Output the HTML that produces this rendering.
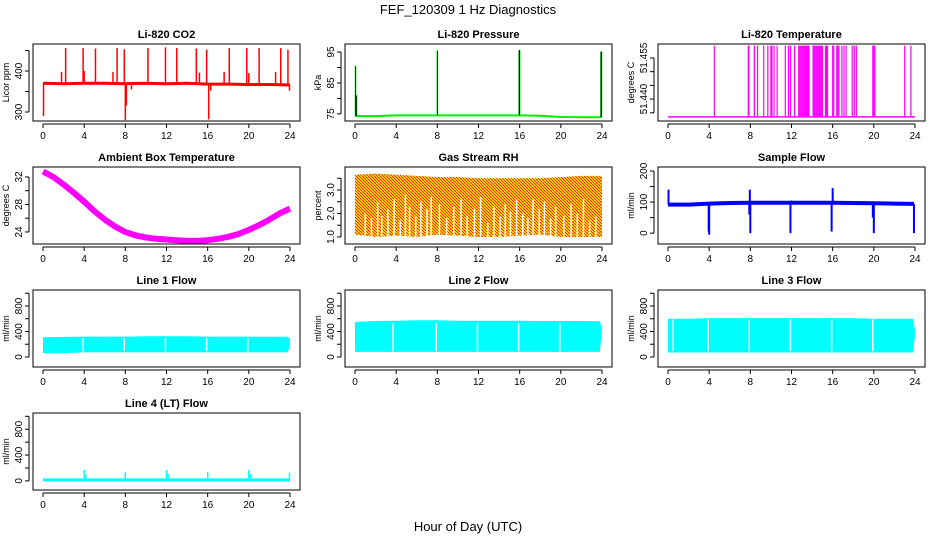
<!DOCTYPE html>
<html><head><meta charset="utf-8">
<style>
html,body{margin:0;padding:0;background:#fff;}
svg{display:block;font-family:"Liberation Sans",sans-serif;}
</style></head>
<body>
<svg id="c" width="936" height="540" viewBox="0 0 936 540" xmlns="http://www.w3.org/2000/svg">
<defs>
<pattern id="rhpat" width="3" height="3" patternUnits="userSpaceOnUse">
<rect width="3" height="3" fill="#ffd000"/><rect x="0" y="0" width="1" height="1" fill="#ff2000"/><rect x="1" y="1" width="1" height="1" fill="#ff2000"/><rect x="2" y="2" width="1" height="1" fill="#ff2000"/>
</pattern>
</defs>
<text x="468" y="14" text-anchor="middle" font-size="13">FEF_120309  1 Hz Diagnostics</text>
<text x="468" y="531" text-anchor="middle" font-size="13">Hour of Day (UTC)</text>
</svg>
<script>
// ---- data ----
const hourTicks = [0,4,8,12,16,20,24];
// CO2
const co2Hours = [0,2,4,6,8,10,12,14,16,18,20,22,24];
const co2Base = [370,369,370,370,369,370,369,370,368,368,367,367,366];
const co2SpikeHours = [0.05,1.8,2.2,3.9,4.0,5.1,6.8,7.2,7.9,8.0,8.1,8.6,10.2,11.9,12.0,13.0,14.9,15.2,15.9,16.1,16.3,17.6,18.1,19.8,20.0,21.0,22.6,23.1,23.8,23.95];
const co2SpikeVals = [290,398,456,456,400,455,398,456,453,280,316,355,456,458,368,456,455,396,452,282,352,398,456,456,395,456,398,456,452,352];
// Pressure
const presHours = [0,2,4,6,8,10,12,14,16,18,20,22,23.9];
const presBase = [74.3,74.3,74.5,74.5,74.5,74.5,74.5,74.5,74.5,74.4,74.0,73.9,73.9];
const presSpikeHours = [0.05,0.15,8.0,15.95,16.0,23.9,23.95];
const presSpikeVals = [90.5,81,95.5,95.6,95.6,95.0,95.2];
// Li-820 temperature
const ltBase = 51.4335;
const ltTop = 51.4595;
const ltSpikeHours = [4.5,7.8,7.85,8.4,8.7,9.3,9.7,10.0,10.1,10.3,10.6,11.4,11.7,11.9,12.3,12.7,12.8,12.9,13.0,13.1,13.2,13.3,13.4,13.5,13.6,13.7,14.1,14.2,14.3,14.4,14.5,14.6,14.7,14.8,14.9,15.0,15.3,15.4,15.5,16.0,16.1,16.4,16.5,16.6,16.9,17.1,17.3,17.9,18.1,18.3,19.9,20.0,20.1,23.0,23.6];
// Ambient box temperature
const ambHours = [0,1,2,3,4,5,6,7,8,9,10,11,12,13,14,15,16,17,18,19,20,21,22,23,24];
const ambVals = [32.8,32.0,30.9,29.7,28.4,27.0,25.8,24.8,24.0,23.5,23.2,23.0,22.9,22.8,22.7,22.7,22.8,23.0,23.3,23.7,24.3,25.0,25.8,26.7,27.4];
// Gas stream RH
const rhHours = [0,2,4,6,8,10,12,14,16,18,20,22,24];
const rhTop = [3.65,3.7,3.65,3.6,3.55,3.55,3.5,3.5,3.5,3.5,3.55,3.6,3.6];
const rhBot = [1.1,1.0,1.05,1.0,1.1,1.05,1.0,1.0,1.05,1.1,1.0,1.0,1.0];
const rhGapHours = [1.0,1.6,2.2,2.6,3.2,3.8,4.4,4.9,5.3,5.9,6.4,7.0,7.4,8.2,8.9,9.6,10.3,10.9,11.6,12.2,12.9,13.5,14.1,14.6,15.1,15.7,16.3,16.8,17.3,17.9,18.4,19.0,19.5,20.3,21.0,21.6,22.2,22.8,23.4];
const rhGapVals = [2.0,1.8,2.5,1.9,2.2,2.6,1.7,2.8,2.3,1.9,2.5,2.2,2.7,2.4,1.8,2.3,2.6,1.9,2.2,2.7,1.6,2.3,1.9,2.4,2.1,2.6,2.0,1.8,2.6,2.2,2.5,1.8,2.3,1.9,2.4,2.0,2.6,1.7,1.9];
// Sample flow
const sfHours = [0,2,4,6,8,10,12,14,16,18,20,22,23.9];
const sfBase = [92,92,95,97,98,98,98,98,98,97,96,95,94];
const sfSpikeHours = [0.05,3.95,4.0,7.9,7.95,8.0,11.9,12.0,15.9,16.0,19.9,20.0,23.9];
const sfSpikeVals = [140,5,-5,60,140,0,0,105,5,145,50,0,0];
// Line flows
const flowHours = [0,2,4,6,8,10,12,14,16,18,20,22,23.8,24];
const l1Top = [310,315,320,320,320,325,325,325,320,320,320,318,320,280];
const l1Bot = [60,60,75,75,75,75,75,75,75,75,75,75,75,180];
const l1Gaps = [3.9,7.9,11.9,15.9,19.9];
const l2Top = [550,565,570,575,575,570,570,570,570,565,565,565,560,440];
const l2Bot = [80,80,80,80,80,80,80,80,80,80,80,80,80,420];
const l2Gaps = [3.7,7.9,11.9,15.9,19.9];
const l3Top = [600,600,610,610,610,610,610,610,610,610,600,600,600,430];
const l3Bot = [70,70,70,70,70,70,70,70,70,70,70,70,70,330];
const l3Gaps = [0.5,3.9,7.9,11.9,15.9,19.9];
const l4Hours = [0,24];
const l4Base = [15,15];
const l4SpikeHours = [4.0,4.15,8.0,12.0,12.15,16.0,20.0,20.15,23.95];
const l4SpikeVals = [170,100,140,170,110,140,170,110,130];

// ---- layout ----
const svg = document.getElementById('c');
const NS = 'http://www.w3.org/2000/svg';
const colX = [33,345,658], rowY = [44,167,290,413], W = 267, H = 77;
function mk(tag, attrs, parent){const e=document.createElementNS(NS,tag);for(const k in attrs)e.setAttribute(k,attrs[k]);(parent||svg).appendChild(e);return e;}

function panel(name, col, row, title, ylab, ymin, ymax, yticks, ylabels){
  const L=colX[col], T=rowY[row];
  const g = mk('g',{});
  
  
  const xs = h => L + 10 + h/24*247;
  const ys = v => T + H - (v-ymin)/(ymax-ymin)*H;
  const t = mk('text',{x:L+W/2,y:T-6,'text-anchor':'middle','font-size':11,'font-weight':'bold'},g);
  t.textContent = title;
  
  
  const plot = mk('g',{},g);
  
  
  const box = mk('rect',{x:L,y:T,width:W,height:H,fill:'none',stroke:'#000','stroke-width':1},g);
  
  
  const xa = mk('g',{},g);
  
  
  mk('line',{x1:xs(0),x2:xs(24),y1:T+H+3,y2:T+H+3,stroke:'#000'},xa);
  hourTicks.forEach(h=>{
    mk('line',{x1:xs(h),x2:xs(h),y1:T+H+3,y2:T+H+7,stroke:'#000'},xa);
    const tx = mk('text',{x:xs(h),y:T+H+18,'text-anchor':'middle','font-size':10},xa);
    tx.textContent = h;
  });
  const ya = mk('g',{},g);
  
  
  mk('line',{x1:L-4,x2:L-4,y1:ys(yticks[0]),y2:ys(yticks[yticks.length-1]),stroke:'#000'},ya);
  yticks.forEach(v=>mk('line',{x1:L-8,x2:L-4,y1:ys(v),y2:ys(v),stroke:'#000'},ya));
  ylabels.forEach(v=>{
    const x=L-11, y=ys(v);
    const tx=mk('text',{x:x,y:y,'text-anchor':'middle','font-size':10,transform:`rotate(-90 ${x} ${y})`},ya);
    tx.textContent = v;
  });
  const yx=L-24, yy=T+H/2;
  const yt = mk('text',{x:yx,y:yy,'text-anchor':'middle','font-size':9,transform:`rotate(-90 ${yx} ${yy})`},g);
  yt.textContent = ylab;
  
  
  return {g:plot, xs, ys};
}
function poly(p, hs, vs, color, w, extra){
  const pts = hs.map((h,i)=>p.xs(h).toFixed(1)+','+p.ys(vs[i]).toFixed(1)).join(' ');
  const e = mk('polyline',Object.assign({points:pts,fill:'none',stroke:color,'stroke-width':w},extra||{}),p.g);
  
  
  return e;
}
function interp(hs, vs, h){
  for(let i=0;i<hs.length-1;i++) if(h<=hs[i+1]) return vs[i]+(vs[i+1]-vs[i])*(h-hs[i])/(hs[i+1]-hs[i]);
  return vs[vs.length-1];
}
function spikes(p, hs, vs, baseH, baseV, color, w, name){
  hs.forEach((h,i)=>{
    const b = Array.isArray(baseV)? interp(baseH,baseV,h) : baseV;
    const e = mk('line',{x1:p.xs(h),x2:p.xs(h),y1:p.ys(b),y2:p.ys(vs[i]),stroke:color,'stroke-width':w},p.g);
    
    
  });
}
function band(p, hs, top, bot, fill, name){
  const up = hs.map((h,i)=>p.xs(h).toFixed(1)+','+p.ys(top[i]).toFixed(1));
  const dn = hs.map((h,i)=>p.xs(h).toFixed(1)+','+p.ys(bot[i]).toFixed(1)).reverse();
  const e = mk('polygon',{points:up.concat(dn).join(' '),fill:fill},p.g);
  
  
}
function gaps(p, hs, fromV, toV, w, name){
  hs.forEach((h,i)=>{
    const to = Array.isArray(toV)? toV[i] : toV;
    const e = mk('line',{x1:p.xs(h),x2:p.xs(h),y1:p.ys(fromV),y2:p.ys(to),stroke:'#fff','stroke-width':w},p.g);
    
    
  });
}

let p = panel('co2',0,0,'Li-820 CO2','Licor ppm',278,466,[300,350,400,450],[300,400]);
spikes(p, co2SpikeHours, co2SpikeVals, co2Hours, co2Base, '#ff0000', 1.5, 'co2-spike');
poly(p, co2Hours, co2Base, '#ff0000', 3);
p = panel('pressure',1,0,'Li-820 Pressure','kPa',72.7,97.6,[75,80,85,90,95],[75,85,95]);
poly(p, presHours, presBase, '#00ee00', 2);
spikes(p, presSpikeHours, presSpikeVals, presHours, presBase, '#00ee00', 1.5, 'pressure-spike');
spikes(p, presSpikeHours, presSpikeVals, presHours, presBase, '#000', 0.7, 'pressure-spike-dots');
p = panel('li820-temp',2,0,'Li-820 Temperature','degrees C',51.432,51.4601,[51.435,51.440,51.445,51.450,51.455],['51.440','51.455']);
spikes(p, ltSpikeHours, ltSpikeHours.map(()=>ltTop), null, ltBase, '#ff00ff', 1.2, 'temp-spike');
poly(p, [0,24], [ltBase,ltBase], '#ff00ff', 1.5);
p = panel('ambient-temp',0,1,'Ambient Box Temperature','degrees C',22.25,33.45,[24,26,28,30,32],[24,28,32]);
poly(p, ambHours, ambVals, '#ff00ff', 6, {'stroke-linejoin':'round'});
p = panel('gas-rh',1,1,'Gas Stream RH','percent',0.7,3.98,[1.0,1.5,2.0,2.5,3.0,3.5],['1.0','2.0','3.0']);
band(p, rhHours, rhTop, rhBot, 'url(#rhpat)', 'rh-band');
gaps(p, rhGapHours, 0.9, rhGapVals, 1.5, 'rh-gap');
p = panel('sample-flow',2,1,'Sample Flow','ml/min',-35,213,[0,50,100,150,200],[0,100,200]);
poly(p, sfHours, sfBase, '#0000ff', 4);
spikes(p, sfSpikeHours, sfSpikeVals, sfHours, sfBase, '#0000ff', 2, 'sample-flow-spike');
const fl = [0,200,400,600,800,1000], fll=[0,400,800];
p = panel('line1-flow',0,2,'Line 1 Flow','ml/min',-157,1051,fl,fll);
band(p, flowHours, l1Top, l1Bot, '#00ffff', 'line1-band');
gaps(p, l1Gaps, 90, 300, 1.5, 'line1-gap');
p = panel('line2-flow',1,2,'Line 2 Flow','ml/min',-157,1051,fl,fll);
band(p, flowHours, l2Top, l2Bot, '#00ffff', 'line2-band');
gaps(p, l2Gaps, 90, 530, 1.5, 'line2-gap');
p = panel('line3-flow',2,2,'Line 3 Flow','ml/min',-157,1051,fl,fll);
band(p, flowHours, l3Top, l3Bot, '#00ffff', 'line3-band');
gaps(p, l3Gaps, 90, 590, 1.5, 'line3-gap');
p = panel('line4-flow',0,3,'Line 4 (LT) Flow','ml/min',-141,1051,fl,fll);
poly(p, l4Hours, l4Base, '#00ffff', 3);
spikes(p, l4SpikeHours, l4SpikeVals, l4Hours, l4Base, '#00ffff', 1.5, 'line4-spike');
</script>
</body></html>
